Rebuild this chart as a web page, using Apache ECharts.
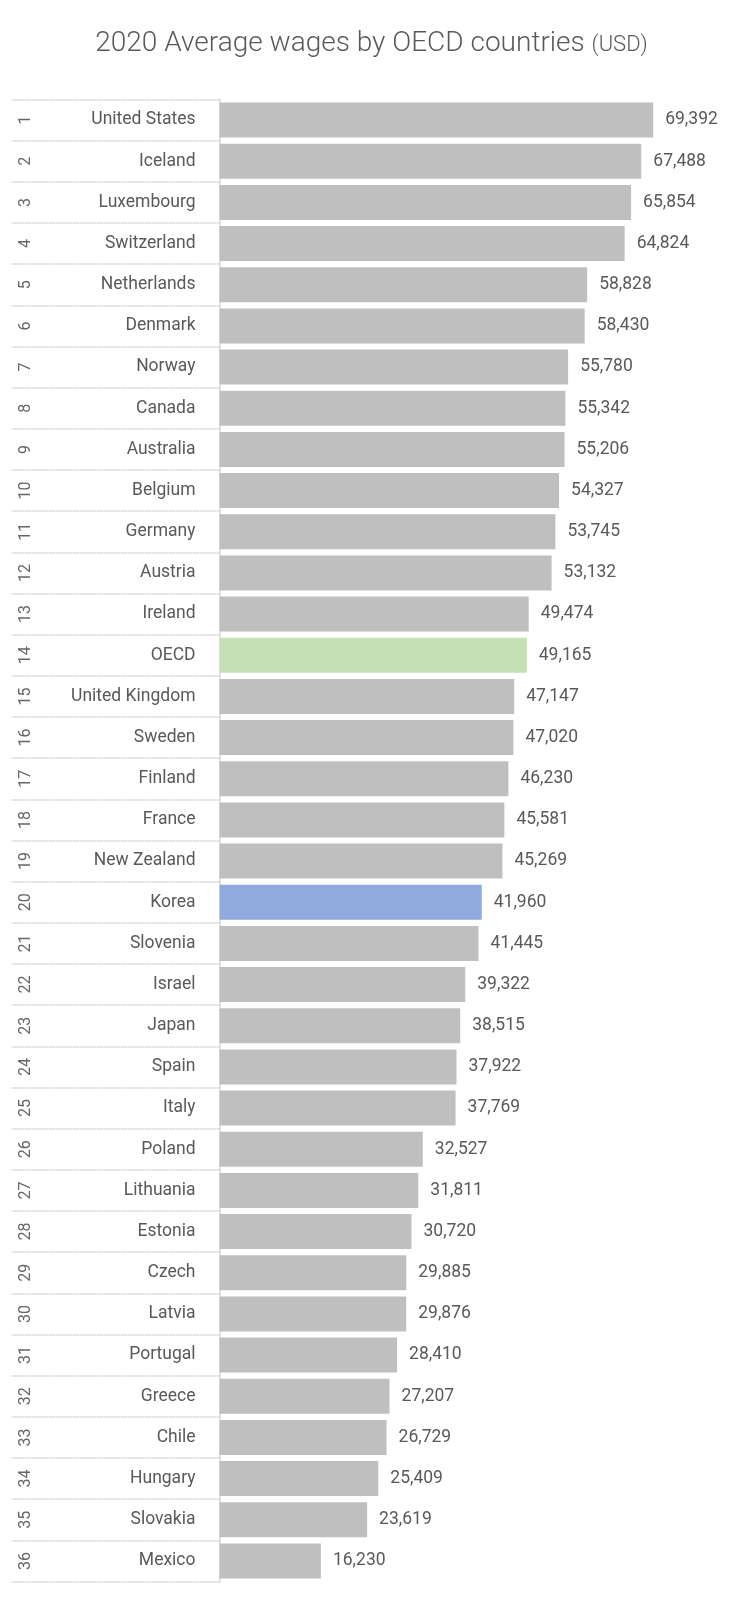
<!DOCTYPE html>
<html>
<head>
<meta charset="utf-8">
<script src="https://cdn.jsdelivr.net/npm/echarts@6/dist/echarts.min.js"></script>
<style>
  html, body { margin: 0; padding: 0; background: #fff; }
  #chart { width: 743px; height: 1609px; }
</style>
</head>
<body>
<div id="chart"></div>
<script>
// data
const countries = ['United States', 'Iceland', 'Luxembourg', 'Switzerland', 'Netherlands', 'Denmark',
  'Norway', 'Canada', 'Australia', 'Belgium', 'Germany', 'Austria', 'Ireland', 'OECD',
  'United Kingdom', 'Sweden', 'Finland', 'France', 'New Zealand', 'Korea', 'Slovenia', 'Israel',
  'Japan', 'Spain', 'Italy', 'Poland', 'Lithuania', 'Estonia', 'Czech', 'Latvia', 'Portugal',
  'Greece', 'Chile', 'Hungary', 'Slovakia', 'Mexico']
const wages = [69392, 67488, 65854, 64824, 58828, 58430, 55780, 55342, 55206, 54327, 53745, 53132,
  49474, 49165, 47147, 47020, 46230, 45581, 45269, 41960, 41445, 39322, 38515, 37922, 37769,
  32527, 31811, 30720, 29885, 29876, 28410, 27207, 26729, 25409, 23619, 16230]
const ranks = countries.map((c, i) => String(i + 1))

const highlight = { OECD: '#c5e0b4', Korea: '#8faadc' }
const textColor = '#595959'
const font = 'Roboto, "Noto Sans", sans-serif'

function renderChart() {
  const chart = echarts.init(document.getElementById('chart'))
  const option = {
    backgroundColor: '#fff',
    animation: false,
    title: {
      text: '{a|2020 Average wages by OECD countries }{b|(USD)}',
      left: 'center',
      top: 25,
      textStyle: {
        rich: {
          a: { fontSize: 28, color: textColor, fontFamily: font, fontWeight: 300 },
          b: { fontSize: 22, color: textColor, fontFamily: font, fontWeight: 300, padding: [3, 0, 0, 0] }
        }
      }
    },
    grid: { left: 219.5, top: 99.5, width: 500, bottom: 27.5, containLabel: false },
    xAxis: {
      type: 'value',
      min: 0,
      max: 80000,
      show: false
    },
    yAxis: [
      {
        type: 'category',
        data: countries,
        inverse: true,
        axisLine: { show: true, lineStyle: { color: '#d9d9d9', width: 1.5 } },
        axisTick: {
          show: true,
          length: 208,
          lineStyle: { color: '#d0d0d0', width: 1.5, type: [2, 1] }
        },
        axisLabel: {
          margin: 24,
          fontSize: 17.5,
          color: textColor,
          fontFamily: font
        }
      },
      {
        type: 'category',
        data: ranks,
        inverse: true,
        position: 'left',
        offset: 186,
        axisLine: { show: false },
        axisTick: { show: false },
        axisLabel: {
          rotate: 90,
          margin: 0,
          fontSize: 16,
          color: '#666',
          fontFamily: font
        }
      }
    ],
    series: [
      {
        type: 'bar',
        yAxisIndex: 0,
        barCategoryGap: '15%',
        data: wages.map((v, i) => ({
          value: v,
          itemStyle: { color: highlight[countries[i]] || '#bfbfbf' }
        })),
        label: {
          show: true,
          position: 'right',
          distance: 12,
          fontSize: 17.5,
          color: textColor,
          fontFamily: font,
          formatter: p => p.value.toLocaleString('en-US')
        }
      }
    ]
  }
  chart.setOption(option)
}

document.addEventListener('DOMContentLoaded', renderChart)
</script>
</body>
</html>
